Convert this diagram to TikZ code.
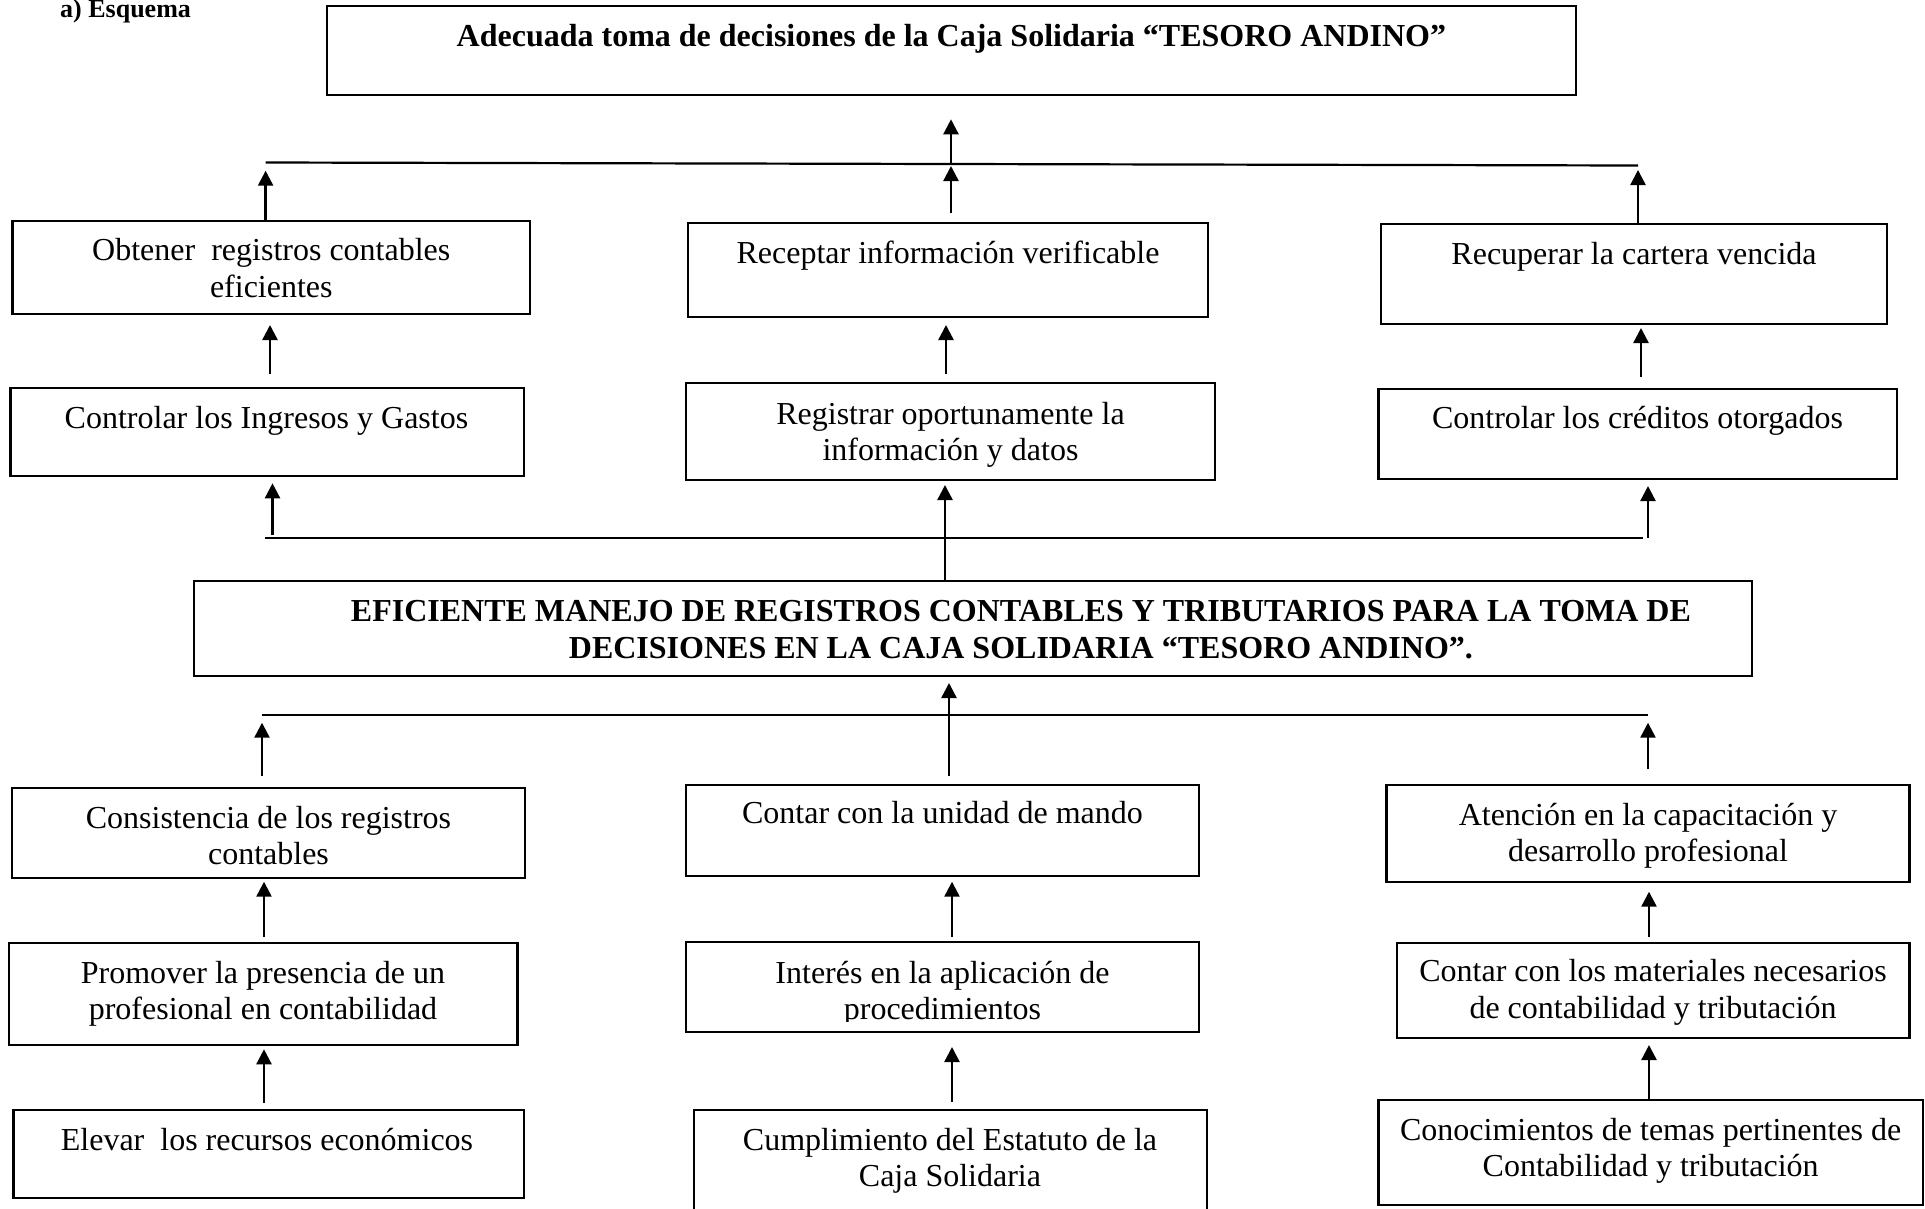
\documentclass[tikz,border=0pt]{standalone}
\usepackage{fontspec}
\setmainfont{Liberation Serif}
\usetikzlibrary{arrows.meta}
\newcommand\mybox[5]{\node[box, minimum width={#4-#2}, minimum height={#5-#3}] (#1) at ({(#2+#4)/2},{(#3+#5)/2}) {};}
\begin{document}
\begin{tikzpicture}[x=1pt,y=-1pt,
 box/.style={draw, line width=2.2pt, rectangle, inner sep=0pt},
 arr/.style={line width=2.4pt, -{Triangle[length=15pt,width=15pt]}},
 bus/.style={line width=2.2pt},
 txt/.style={font=\fontsize{32}{36.5}\selectfont, align=center, anchor=base, inner sep=0pt},
 ttl/.style={font=\fontsize{32}{37}\selectfont\bfseries, align=center, anchor=base, inner sep=0pt}]
\useasboundingbox[fill=white] (0,0) rectangle (1925,1208);

% heading
\node[font=\fontsize{26}{28}\selectfont\bfseries, anchor=base west, inner sep=0pt] (esq) at (60,17) {a) Esquema};

% top box (base anchor of a multi-line node = baseline of its last line)
\mybox{top}{326.8}{5.7}{1576}{95}
\node[ttl] (toptxt) at (951.4,46.7) {Adecuada toma de decisiones de la Caja Solidaria “TESORO ANDINO”};

% row 1
\mybox{obt}{12.5}{220.7}{530}{314}
\node[txt] (obttxt) at (271.3,297) {Obtener\ \ registros contables\\eficientes};
\mybox{rec}{688}{222.7}{1208}{317.3}
\node[txt] (rectxt) at (948,263) {Receptar información verificable};
\mybox{rcp}{1381}{224}{1887}{324}
\node[txt] (rcptxt) at (1634,264) {Recuperar la cartera vencida};

% row 2
\mybox{cig}{10.4}{388.3}{523.6}{476}
\node[txt] (cigtxt) at (266.5,428.3) {Controlar los Ingresos y Gastos};
\mybox{reg}{686}{383.3}{1215}{480}
\node[txt] (regtxt) at (950.5,460.5) {Registrar oportunamente la\\información y datos};
\mybox{ccr}{1378.5}{389}{1896.6}{479.3}
\node[txt] (ccrtxt) at (1637.5,428) {Controlar los créditos otorgados};

% main box
\mybox{main}{194.3}{581}{1752}{676}
\node[ttl] (maintxt) at (1021,658) {EFICIENTE MANEJO DE REGISTROS CONTABLES Y TRIBUTARIOS PARA LA TOMA DE\\DECISIONES EN LA CAJA SOLIDARIA “TESORO ANDINO”.};

% row 4
\mybox{con}{12.2}{788.3}{524.8}{878.3}
\node[txt] (contxt) at (268.5,864.5) {Consistencia de los registros\\contables};
\mybox{uni}{686}{785}{1199}{876}
\node[txt] (unitxt) at (942.5,823) {Contar con la unidad de mando};
\mybox{ate}{1386.5}{785}{1909.5}{881.7}
\node[txt] (atetxt) at (1648,861.5) {Atención en la capacitación y\\desarrollo profesional};

% row 5
\mybox{pro}{8.6}{942.7}{517.4}{1045}
\node[txt] (protxt) at (263,1019.8) {Promover la presencia de un\\profesional en contabilidad};
\mybox{int}{686}{942.2}{1199}{1031.7}
\begin{scope}
\clip (686,942) rectangle (1199,1021);
\node[txt] (inttxt) at (942.5,1019.8) {Interés en la aplicación de\\procedimientos};
\end{scope}
\mybox{mat}{1397}{942.7}{1909.5}{1038.3}
\node[txt] (mattxt) at (1653,1018.2) {Contar con los materiales necesarios\\de contabilidad y tributación};

% row 6
\mybox{ele}{13.5}{1110}{523.6}{1198.3}
\node[txt] (eletxt) at (267,1150) {Elevar\ \ los recursos económicos};
\mybox{cum}{693.8}{1110}{1206.9}{1220}
\node[txt] (cumtxt) at (950,1186.5) {Cumplimiento del Estatuto de la\\Caja Solidaria};
\mybox{cono}{1378.5}{1100}{1923}{1205}
\node[txt] (conotxt) at (1650.7,1176.5) {Conocimientos de temas pertinentes de\\Contabilidad y tributación};

% bus lines
\coordinate (b1a) at (265.6,162.5); \coordinate (b1b) at (1638,165.5);
\coordinate (b2a) at (265,537.7);   \coordinate (b2b) at (1643,537.7);
\coordinate (b3a) at (262,715);     \coordinate (b3b) at (1648,715);
\draw[bus] (b1a) -- (b1b);
\draw[bus] (b2a) -- (b2b);
\draw[bus] (b3a) -- (b3b);

% arrows: row 1 -> bus 1 -> top
\coordinate (a1t) at (265.6,170.7);
\draw[arr] (obt.north -| a1t) -- (a1t);
\coordinate (a2s) at (951,213.3); \coordinate (a2t) at (951,166);
\draw[arr] (a2s) -- (a2t);
\coordinate (a3s) at (951,163); \coordinate (a3t) at (951,119.3);
\draw[arr] (a3s) -- (a3t);
\coordinate (a4t) at (1638,170);
\draw[arr] (rcp.north -| a4t) -- (a4t);

% row 2 -> row 1
\coordinate (a5s) at (270,374); \coordinate (a5t) at (270,325);
\draw[arr] (a5s) -- (a5t);
\coordinate (a6s) at (946,374); \coordinate (a6t) at (946,325);
\draw[arr] (a6s) -- (a6t);
\coordinate (a7s) at (1641,376.7); \coordinate (a7t) at (1641,328);
\draw[arr] (a7s) -- (a7t);

% bus 2 -> row 2, main -> row 2
\coordinate (a8s) at (272.5,535); \coordinate (a8t) at (272.5,483.3);
\draw[arr] (a8s) -- (a8t);
\coordinate (a9t) at (945,485);
\draw[arr] (main.north -| a9t) -- (a9t);
\coordinate (a10s) at (1648,537.7); \coordinate (a10t) at (1648,486);
\draw[arr] (a10s) -- (a10t);

% row 4 -> bus 3 -> main
\coordinate (a11s) at (262,776); \coordinate (a11t) at (262,722.7);
\draw[arr] (a11s) -- (a11t);
\coordinate (a12s) at (949,776); \coordinate (a12t) at (949,683);
\draw[arr] (a12s) -- (a12t);
\coordinate (a13s) at (1648,769); \coordinate (a13t) at (1648,722.7);
\draw[arr] (a13s) -- (a13t);

% row 5 -> row 4
\coordinate (a14s) at (264,936.7); \coordinate (a14t) at (264,881.7);
\draw[arr] (a14s) -- (a14t);
\coordinate (a15s) at (952,936.7); \coordinate (a15t) at (952,881.7);
\draw[arr] (a15s) -- (a15t);
\coordinate (a16s) at (1649,936.7); \coordinate (a16t) at (1649,891.7);
\draw[arr] (a16s) -- (a16t);

% row 6 -> row 5
\coordinate (a17s) at (264,1102.7); \coordinate (a17t) at (264,1049.3);
\draw[arr] (a17s) -- (a17t);
\coordinate (a18s) at (952,1102); \coordinate (a18t) at (952,1047);
\draw[arr] (a18s) -- (a18t);
\coordinate (a19s) at (1649,1099.3); \coordinate (a19t) at (1649,1045);
\draw[arr] (a19s) -- (a19t);
\end{tikzpicture}
\end{document}
